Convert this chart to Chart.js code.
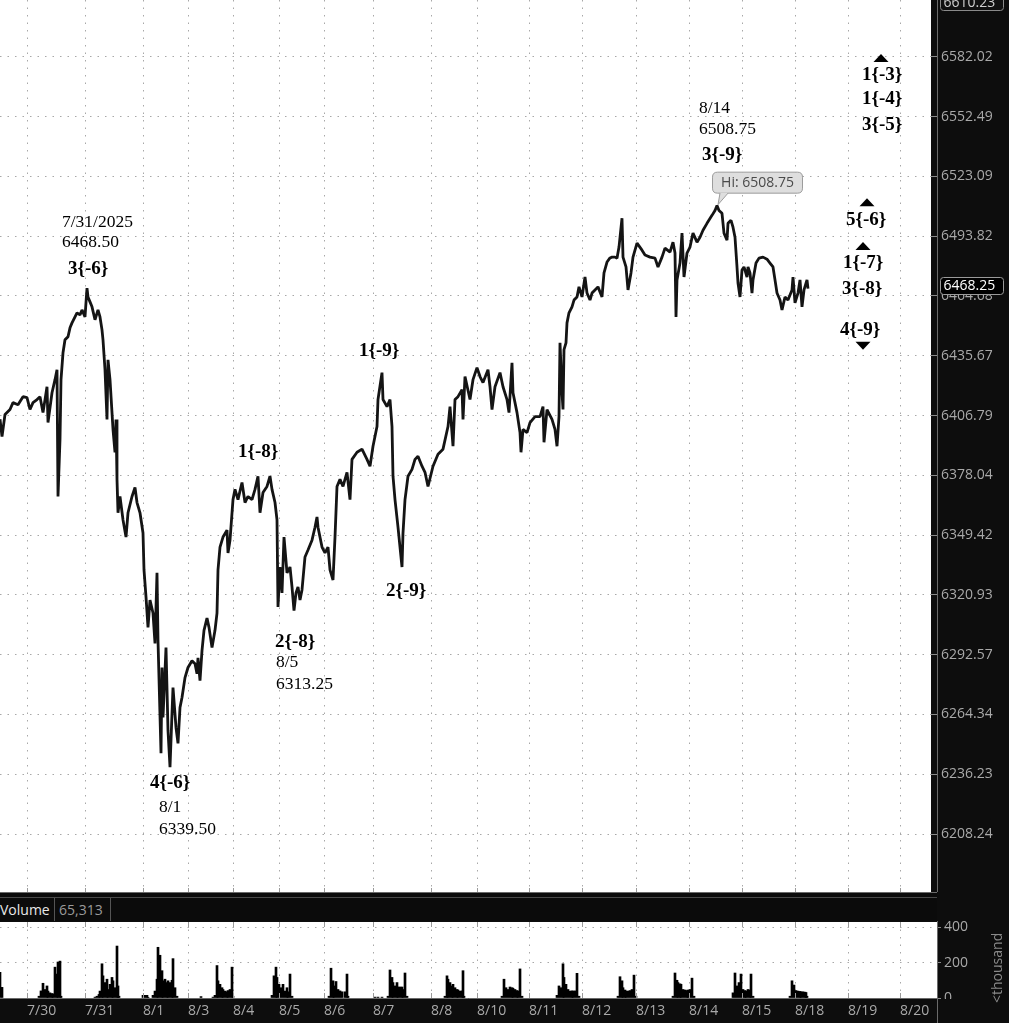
<!DOCTYPE html>
<html>
<head>
<meta charset="utf-8">
<title>ES futures 7/30 - 8/20</title>
<script src="https://cdn.jsdelivr.net/npm/chart.js@4.4.1/dist/chart.umd.min.js"></script>
<style>
html, body { margin: 0; padding: 0; background: #0d0d0d; overflow: hidden; }
#wrap { position: relative; width: 1009px; height: 1023px; }
#priceCanvas { position: absolute; left: 0; top: 0; }
#volCanvas { position: absolute; left: 0; top: 921px; }
#volHead { position: absolute; left: 0; top: 892px; width: 937px; height: 29px; background: #0b0b0b;
  border-top: 1px solid #6a6a6a; box-sizing: border-box; font: 14px 'Open Sans', sans-serif; }
#volHead .inner { position: absolute; left: 0; top: 4px; right: 0; bottom: 0; border-top: 1px solid #4a4a4a; }
#volHead span { position: absolute; top: 0; bottom: 0; line-height: 23px; box-sizing: border-box; }
#volHead .name { left: 0; width: 55px; color: #e8e8e8; border-right: 1px solid #555; }
#volHead .val { left: 55px; width: 56px; color: #9a9a9a; padding-left: 4px; border-right: 1px solid #555; }
</style>
</head>
<body>
<div id="wrap">
  <canvas id="priceCanvas" width="1009" height="892"></canvas>
  <div id="volHead"><div class="inner"><span class="name">Volume</span><span class="val">65,313</span></div></div>
  <canvas id="volCanvas" width="1009" height="102"></canvas>
</div>
<script>
// day separators (bar index of session start) and their labels
const dayLabels = ['7/30','7/31','8/1','8/3','8/4','8/5','8/6','8/7','8/8','8/10','8/11','8/12','8/13','8/14','8/15','8/18','8/19','8/20'];
const dayBars = [27,85,143,188,233,279,324,373,431,477,529,582,636,689,742,795,848,900];

// price axis (log scale)
const priceTicks = [6582.02,6552.49,6523.09,6493.82,6464.68,6435.67,6406.79,6378.04,6349.42,6320.93,6292.57,6264.34,6236.23,6208.24];
const priceTop = 6610.23;
const priceBottom = 6183.08;
const lastPrice = 6468.25;
const highPrice = 6508.75;
const highBar = 717;

// price path
const priceBars = [0,2,5,10,13,18,23,27,30,33,37,40,43,47,48,52,55,57,58,60,61,63,65,68,70,72,77,80,82,85,87,88,90,92,95,98,100,102,103,105,107,108,110,112,113,115,116,117,118,120,123,126,128,132,135,137,140,143,144,146,148,150,153,155,157,158,161,162,163,166,168,170,172,173,176,178,180,182,185,188,192,195,197,198,200,202,204,207,209,212,215,217,218,220,223,227,228,230,233,235,238,242,245,248,252,255,258,260,263,267,270,272,275,277,278,280,282,284,287,290,292,294,296,298,300,302,305,308,312,315,317,318,322,325,328,330,333,335,337,340,343,347,350,352,357,362,367,370,373,377,378,382,383,387,390,392,393,395,398,400,402,403,405,408,412,415,418,422,425,428,433,438,443,448,450,453,455,458,462,463,465,470,473,477,480,483,488,490,492,495,500,503,507,509,512,513,517,520,521,523,527,530,535,540,543,544,547,552,555,557,559,560,562,563,564,566,567,569,572,574,577,579,582,585,587,590,592,595,598,602,604,607,610,612,615,617,619,622,623,626,628,631,633,637,642,645,650,655,658,662,665,670,673,675,676,677,680,682,684,687,690,693,697,700,703,707,712,715,717,719,722,724,727,728,731,733,735,737,738,740,742,744,747,748,750,752,753,756,759,763,767,770,773,775,777,780,782,785,788,792,793,795,798,800,802,804,807,808];
const prices = [6405.0,6396.7,6407.3,6409.7,6413.0,6412.0,6415.9,6415.4,6409.7,6413.0,6414.5,6415.9,6408.2,6420.7,6403.4,6417.8,6424.1,6428.9,6367.9,6395.3,6424.1,6437.1,6443.4,6444.9,6449.2,6451.6,6456.5,6455.5,6457.9,6454.5,6468.5,6464.2,6461.8,6459.4,6453.1,6457.9,6454.5,6448.2,6443.4,6428.9,6404.9,6433.7,6424.1,6408.2,6400.1,6389.1,6404.9,6376.1,6360.1,6367.9,6356.7,6348.5,6360.1,6367.9,6372.2,6365.0,6360.1,6350.4,6332.8,6320.0,6305.5,6318.5,6312.3,6297.9,6331.4,6299.3,6246.1,6286.5,6262.9,6295.9,6256.8,6239.5,6264.8,6277.0,6258.2,6250.7,6267.6,6272.3,6281.7,6286.5,6289.7,6288.3,6283.6,6291.1,6280.3,6294.5,6304.1,6309.9,6305.5,6295.9,6304.1,6312.3,6332.8,6343.7,6348.5,6351.8,6340.9,6347.0,6366.4,6371.3,6366.4,6374.6,6365.0,6367.9,6366.4,6371.3,6377.6,6360.1,6369.8,6372.7,6377.6,6371.3,6365.0,6356.7,6315.2,6334.2,6321.9,6348.5,6331.4,6334.2,6324.7,6313.5,6321.9,6324.7,6318.5,6323.3,6339.0,6342.3,6347.0,6353.2,6358.1,6353.2,6343.7,6340.9,6343.7,6332.8,6328.0,6348.5,6372.7,6376.1,6372.7,6379.5,6366.4,6385.7,6389.1,6390.6,6385.7,6382.4,6392.0,6401.5,6414.5,6427.5,6414.5,6411.1,6414.5,6401.5,6377.6,6366.4,6353.2,6343.7,6334.2,6350.4,6366.4,6377.6,6380.9,6385.7,6387.2,6382.4,6379.5,6372.7,6382.4,6388.2,6390.6,6401.5,6411.1,6392.0,6414.5,6415.9,6419.3,6404.9,6425.6,6414.5,6424.1,6429.9,6425.6,6422.7,6428.9,6420.7,6409.7,6420.7,6427.5,6420.7,6414.5,6408.2,6432.3,6417.8,6408.2,6398.6,6389.1,6400.1,6398.6,6403.4,6406.3,6406.3,6411.1,6393.9,6409.7,6404.9,6400.1,6392.0,6406.3,6441.9,6417.8,6409.7,6438.6,6441.9,6451.6,6456.5,6459.4,6462.7,6464.2,6469.1,6464.2,6473.9,6466.1,6462.7,6466.1,6467.6,6469.1,6464.2,6475.9,6481.2,6483.2,6483.6,6483.6,6483.1,6488.5,6502.6,6483.6,6478.8,6467.6,6475.9,6483.6,6490.4,6487.0,6484.6,6483.6,6483.1,6478.8,6483.6,6488.0,6486.0,6490.9,6485.6,6454.5,6472.5,6480.7,6495.3,6473.9,6485.6,6488.5,6495.3,6490.9,6493.3,6496.7,6500.1,6504.0,6506.4,6508.75,6506.4,6505.0,6495.3,6491.9,6500.1,6501.6,6498.2,6493.3,6478.8,6471.0,6464.2,6477.3,6478.8,6473.9,6478.8,6475.9,6466.1,6472.5,6480.7,6483.1,6483.6,6482.6,6480.7,6478.8,6472.5,6466.1,6462.7,6457.9,6464.2,6462.7,6467.6,6473.9,6461.3,6466.1,6472.5,6459.4,6467.6,6472.5,6468.25];

// volume (thousands)
const volTicks = [0, 200, 400];
const volMax = 428.6;
const volBars = [0,2,39,41,43,45,47,48,50,52,53,55,57,58,60,61,95,97,99,100,102,103,105,107,108,110,112,113,115,117,118,119,143,145,147,148,153,155,157,158,160,162,163,165,167,168,170,172,173,175,177,201,213,215,217,218,220,222,223,225,227,228,230,232,233,272,274,276,277,279,281,283,285,287,288,290,292,329,331,333,334,336,338,340,342,345,347,348,375,378,382,388,390,392,393,395,397,398,400,402,403,405,407,445,447,448,450,452,453,455,457,458,460,462,463,464,502,504,506,508,510,512,513,515,517,518,520,522,557,559,561,563,564,566,568,570,572,573,575,577,579,618,620,622,623,625,626,628,630,632,634,636,673,675,677,678,680,681,683,685,687,688,690,692,694,733,735,737,739,741,743,745,746,748,750,751,753,790,792,794,796,798,800,801,803,805,806,807];
const volumes = [145,60,10,40,83,48,68,39,29,25,23,174,135,203,208,10,5,10,20,39,193,125,87,106,48,77,116,97,58,293,68,10,15,15,15,4,15,39,106,286,241,154,97,106,87,97,87,100,222,58,10,8,5,15,183,97,77,58,48,39,35,42,48,174,10,15,125,174,116,77,58,77,39,58,35,135,10,10,168,97,68,93,48,40,35,35,135,10,5,5,5,10,158,116,87,68,87,62,62,62,48,141,10,10,125,106,87,68,77,58,48,45,39,40,154,10,10,106,58,48,62,58,55,48,42,39,164,10,15,68,58,193,116,77,48,39,40,39,40,139,10,10,120,97,58,45,39,39,42,48,129,10,10,141,100,87,80,77,48,45,42,45,48,112,10,29,141,68,87,135,48,42,39,48,45,135,10,10,97,73,42,39,37,35,35,33,31,10];

// wave count notes: text, bar, price, bold
const notes = [
  ['7/31/2025', 62, 6500.6, false],
  ['6468.50', 62, 6490.9, false],
  ['3{-6}', 68, 6477.8, true],
  ['1{-8}', 238, 6389.1, true],
  ['2{-8}', 275, 6298.7, true],
  ['8/5', 276, 6288.8, false],
  ['6313.25', 276, 6278.4, false],
  ['4{-6}', 150, 6232.0, true],
  ['8/1', 159, 6220.8, false],
  ['6339.50', 159, 6210.6, false],
  ['1{-9}', 359, 6438.1, true],
  ['2{-9}', 386, 6322.8, true],
  ['8/14', 699, 6556.4, false],
  ['6508.75', 699, 6546.0, false],
  ['3{-9}', 702, 6533.8, true],
  ['1{-3}', 862, 6573.1, true],
  ['1{-4}', 862, 6560.9, true],
  ['3{-5}', 862, 6548.5, true],
  ['5{-6}', 846, 6501.6, true],
  ['1{-7}', 843, 6480.7, true],
  ['3{-8}', 842, 6468.1, true],
  ['4{-9}', 840, 6448.2, true]
];
// arrows: bar, price, up
const arrows = [[881, 6581.5, true], [867, 6510.4, true], [863, 6489.0, true], [863, 6440.5, false]];

Chart.defaults.font.family = "'Open Sans', sans-serif";
Chart.defaults.font.size = 14;

const dotGrid = '#a8a8a8';
const axisText = '#a9a9a9';

function rrect(ctx, x, y, w, h, r) {
  ctx.beginPath();
  ctx.moveTo(x + r, y);
  ctx.lineTo(x + w - r, y);
  ctx.quadraticCurveTo(x + w, y, x + w, y + r);
  ctx.lineTo(x + w, y + h - r);
  ctx.quadraticCurveTo(x + w, y + h, x + w - r, y + h);
  ctx.lineTo(x + r, y + h);
  ctx.quadraticCurveTo(x, y + h, x, y + h - r);
  ctx.lineTo(x, y + r);
  ctx.quadraticCurveTo(x, y, x + r, y);
  ctx.closePath();
}

function fixPad(s) { s.paddingTop = 0; s.paddingBottom = 0; s.paddingLeft = 0; s.paddingRight = 0; }

const priceDeco = {
  id: 'priceDeco',
  beforeDraw(c) {
    const ctx = c.ctx, a = c.chartArea;
    ctx.save();
    ctx.fillStyle = '#0d0d0d';
    ctx.fillRect(0, 0, c.width, c.height);
    ctx.fillStyle = '#ffffff';
    ctx.fillRect(a.left, a.top, a.right - a.left, c.height - a.top);
    ctx.restore();
  },
  afterDatasetsDraw(c) {
    const ctx = c.ctx, xs = c.scales.x, ys = c.scales.y;
    ctx.save();
    ctx.fillStyle = '#000';
    ctx.textBaseline = 'middle';
    ctx.textAlign = 'left';
    notes.forEach(n => {
      ctx.font = (n[3] ? 'bold 19px' : '17.5px') + " 'Liberation Serif', 'Times New Roman', serif";
      ctx.fillText(n[0], xs.getPixelForValue(n[1]), ys.getPixelForValue(n[2]));
    });
    arrows.forEach(m => {
      const x = xs.getPixelForValue(m[0]), y = ys.getPixelForValue(m[1]);
      ctx.beginPath();
      if (m[2]) { ctx.moveTo(x, y - 4); ctx.lineTo(x + 7.5, y + 4); ctx.lineTo(x - 7.5, y + 4); }
      else { ctx.moveTo(x, y + 4); ctx.lineTo(x + 7.5, y - 4); ctx.lineTo(x - 7.5, y - 4); }
      ctx.closePath();
      ctx.fill();
    });
    // high bubble
    const hx = xs.getPixelForValue(highBar), hy = ys.getPixelForValue(highPrice);
    const bx = hx - 5, by = hy - 34, bw = 90, bh = 21;
    ctx.fillStyle = '#dedede';
    ctx.strokeStyle = '#9c9c9c';
    ctx.lineWidth = 1;
    rrect(ctx, bx + 0.5, by + 0.5, bw, bh, 5);
    ctx.fill();
    ctx.stroke();
    ctx.beginPath();
    ctx.moveTo(hx + 3, by + bh);
    ctx.lineTo(hx + 1, hy - 1);
    ctx.lineTo(hx + 11, by + bh);
    ctx.closePath();
    ctx.fill();
    ctx.beginPath();
    ctx.moveTo(hx + 3, by + bh + 0.5);
    ctx.lineTo(hx + 1, hy - 1);
    ctx.lineTo(hx + 11, by + bh + 0.5);
    ctx.stroke();
    ctx.fillStyle = '#4a4a4a';
    ctx.font = "14px 'Open Sans', sans-serif";
    ctx.textAlign = 'center';
    ctx.fillText('Hi: ' + highPrice.toFixed(2), bx + bw / 2 + 0.5, by + bh / 2 + 1);
    ctx.restore();
  },
  afterDraw(c) {
    const ctx = c.ctx, ys = c.scales.y;
    const ax = ys.left + 6.5;
    ctx.save();
    ctx.strokeStyle = '#6a6a6a';
    ctx.lineWidth = 1;
    ctx.beginPath();
    ctx.moveTo(ax, 0);
    ctx.lineTo(ax, c.height);
    ctx.stroke();
    ctx.font = "14px 'Open Sans', sans-serif";
    ctx.textBaseline = 'middle';
    ctx.textAlign = 'left';
    // top value box
    ctx.fillStyle = '#111';
    ctx.strokeStyle = '#8a8a8a';
    rrect(ctx, ax + 3, -7.5, 63, 18, 3);
    ctx.fill();
    ctx.stroke();
    ctx.fillStyle = '#cfcfcf';
    ctx.fillText(priceTop.toFixed(2), ax + 6, 3);
    // last price box
    const ly = ys.getPixelForValue(lastPrice) - 3;
    ctx.fillStyle = '#000';
    ctx.strokeStyle = '#9a9a9a';
    rrect(ctx, ax + 3, Math.round(ly - 9) + 0.5, 63, 17, 3);
    ctx.fill();
    ctx.stroke();
    ctx.fillStyle = '#ffffff';
    ctx.fillText(lastPrice.toFixed(2), ax + 6, ly);
    ctx.restore();
  }
};

new Chart(document.getElementById('priceCanvas'), {
  type: 'line',
  data: {
    datasets: [{
      data: priceBars.map((b, i) => ({ x: b, y: prices[i] })),
      borderColor: '#141414',
      borderWidth: 2.8,
      borderJoinStyle: 'bevel',
      pointRadius: 0,
      tension: 0
    }]
  },
  options: {
    responsive: false,
    animation: false,
    events: [],
    layout: { padding: 0 },
    plugins: { legend: { display: false }, tooltip: { enabled: false } },
    scales: {
      x: {
        type: 'linear', min: 0, max: 931, bounds: 'data',
        afterBuildTicks: s => { s.ticks = dayBars.map(v => ({ value: v })); },
        afterFit: s => { s.height = 4; fixPad(s); },
        ticks: { display: false, autoSkip: false },
        grid: { color: dotGrid, lineWidth: 1, drawTicks: true, tickLength: 4, tickColor: '#9a9a9a', tickBorderDash: [] },
        border: { display: false, dash: [1.5, 6] }
      },
      y: {
        type: 'logarithmic', position: 'right', min: priceBottom, max: priceTop, bounds: 'data',
        afterBuildTicks: s => { s.ticks = priceTicks.map(v => ({ value: v })); },
        afterFit: s => { s.width = 78; fixPad(s); },
        ticks: { color: axisText, padding: 4, autoSkip: false, callback: v => Number(v).toFixed(2) },
        grid: { color: dotGrid, lineWidth: 1, drawTicks: true, tickLength: 6, tickColor: '#8a8a8a', tickBorderDash: [] },
        border: { display: false, dash: [1.5, 6] }
      }
    }
  },
  plugins: [priceDeco]
});

const volDeco = {
  id: 'volDeco',
  beforeDraw(c) {
    const ctx = c.ctx, a = c.chartArea;
    ctx.save();
    ctx.fillStyle = '#0d0d0d';
    ctx.fillRect(0, 0, c.width, c.height);
    ctx.fillStyle = '#ffffff';
    ctx.fillRect(a.left, a.top, a.right - a.left, a.bottom - a.top);
    ctx.restore();
  },
  afterDraw(c) {
    const ctx = c.ctx, a = c.chartArea, xs = c.scales.x;
    ctx.save();
    // short solid day ticks at top and bottom of the panel
    ctx.strokeStyle = '#9a9a9a';
    ctx.lineWidth = 1;
    dayBars.forEach(b => {
      const x = Math.round(xs.getPixelForValue(b)) + 0.5;
      ctx.beginPath();
      ctx.moveTo(x, a.top); ctx.lineTo(x, a.top + 5);
      ctx.moveTo(x, a.bottom - 5); ctx.lineTo(x, a.bottom);
      ctx.stroke();
    });
    ctx.strokeStyle = '#6a6a6a';
    ctx.beginPath();
    ctx.moveTo(a.left, a.bottom + 0.5); ctx.lineTo(a.right + 0.5, a.bottom + 0.5);
    ctx.moveTo(a.right + 0.5, 0); ctx.lineTo(a.right + 0.5, c.height);
    ctx.stroke();
    // zero label is half hidden under the time strip
    ctx.fillStyle = '#0d0d0d';
    ctx.fillRect(a.right + 1, a.bottom + 1, c.width - a.right, c.height - a.bottom);
    // unit caption
    ctx.beginPath();
    ctx.rect(a.right + 1, a.top + 10, c.width - a.right, c.height);
    ctx.clip();
    ctx.translate(c.width - 4, a.bottom + 5);
    ctx.rotate(-Math.PI / 2);
    ctx.fillStyle = '#8a8a8a';
    ctx.font = "14px 'Open Sans', sans-serif";
    ctx.textAlign = 'left';
    ctx.textBaseline = 'bottom';
    ctx.fillText('<thousands>', 0, 0);
    ctx.restore();
  }
};

new Chart(document.getElementById('volCanvas'), {
  type: 'bar',
  data: {
    datasets: [{
      data: volBars.map((b, i) => ({ x: b, y: volumes[i] })),
      backgroundColor: '#000',
      barThickness: 2
    }]
  },
  options: {
    responsive: false,
    animation: false,
    events: [],
    layout: { padding: { top: 1 } },
    plugins: { legend: { display: false }, tooltip: { enabled: false } },
    scales: {
      x: {
        type: 'linear', min: 0, max: 937, bounds: 'data', offset: false,
        afterBuildTicks: s => { s.ticks = dayBars.map(v => ({ value: v })); },
        afterFit: s => { s.height = 25; fixPad(s); },
        ticks: { color: axisText, align: 'start', padding: 5, autoSkip: false, maxRotation: 0,
          callback: (v, i) => dayLabels[i] },
        grid: { color: dotGrid, lineWidth: 1, drawTicks: false, offset: false },
        border: { display: false, dash: [1.5, 6] }
      },
      y: {
        position: 'right', min: 0, max: volMax, bounds: 'data',
        afterBuildTicks: s => { s.ticks = volTicks.map(v => ({ value: v })); },
        afterFit: s => { s.width = 72; fixPad(s); },
        ticks: { color: axisText, padding: 3, autoSkip: false, callback: v => String(v) },
        grid: { color: dotGrid, lineWidth: 1, drawTicks: true, tickLength: 4, tickColor: '#8a8a8a', tickBorderDash: [] },
        border: { display: false, dash: [1.5, 6] }
      }
    }
  },
  plugins: [volDeco]
});
</script>
</body>
</html>
